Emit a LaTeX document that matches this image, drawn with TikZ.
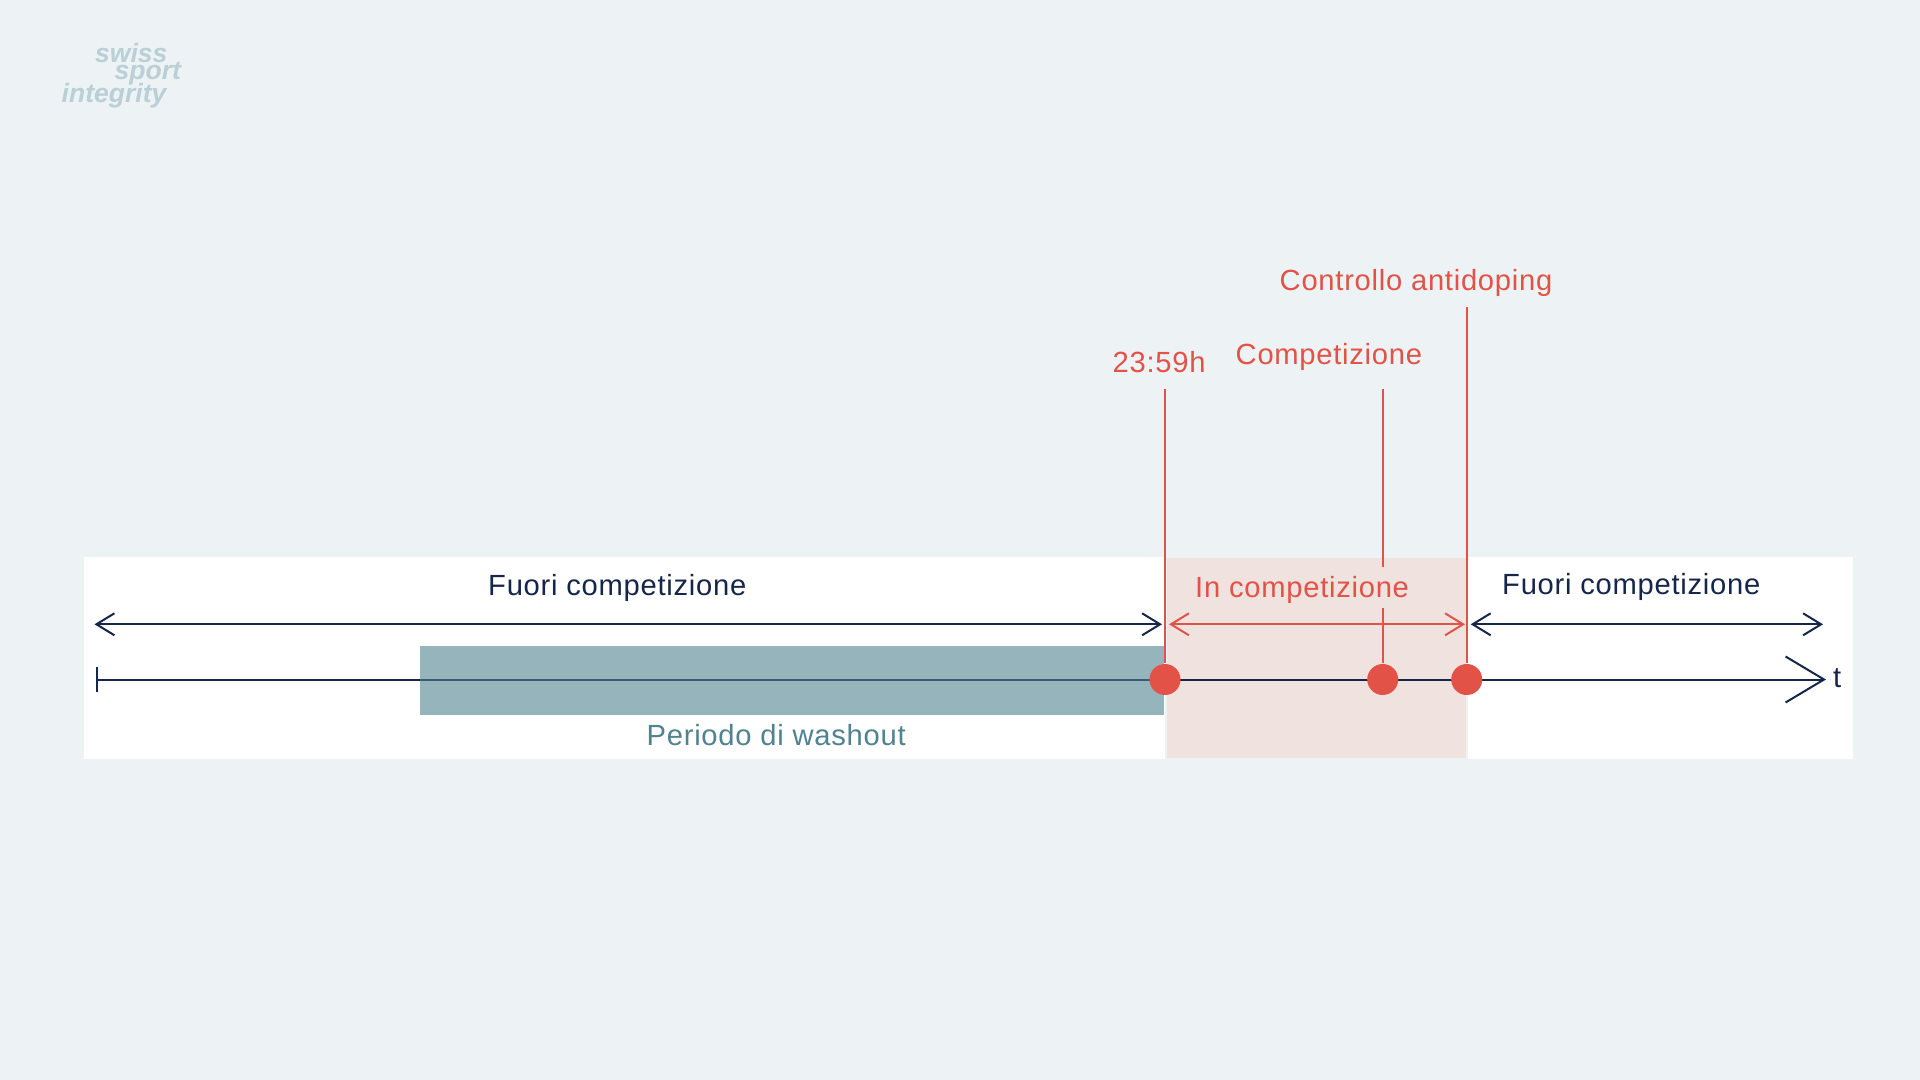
\documentclass[tikz,border=0pt]{standalone}
\usepackage{fontspec}
\setmainfont{Liberation Sans}
\newfontfamily\labelfont[LetterSpace=2.5]{Liberation Sans}
\usetikzlibrary{arrows.meta,positioning}
\definecolor{bgblue}{HTML}{EDF2F4}
\definecolor{navy}{HTML}{16264A}
\definecolor{redmark}{HTML}{E25247}
\definecolor{pinkzone}{HTML}{F0E3DF}
\definecolor{washout}{HTML}{50828F}
\definecolor{logoblue}{HTML}{B9D0D6}
\tikzset{
  lbl/.style={font=\labelfont\fontsize{8.3pt}{10pt}\selectfont, anchor=base west, inner sep=0pt},
  logotxt/.style={font=\fontsize{7.55pt}{8pt}\selectfont\bfseries\itshape, text=logoblue, anchor=base west, inner sep=0pt},
  spanarrow/.style={{Straight Barb[length=1.8mm,width=2.2mm]}-{Straight Barb[length=1.8mm,width=2.2mm]}, line width=0.2mm},
  redline/.style={draw=redmark, line width=0.2mm},
  reddot/.style={circle, fill=redmark, minimum size=3.1mm, inner sep=0pt},
}
\begin{document}
\begin{tikzpicture}[y=-1cm]
\useasboundingbox (0,0) rectangle (19.2,10.8);
% Fondo y banda blanca
\fill[bgblue] (0,0) rectangle (19.2,10.8);
\fill[white] (0.84,5.57) rectangle (18.53,7.59);
% Zona de competicion
\fill[pinkzone, draw=bgblue, line width=0.2mm] (11.66,5.57) rectangle (14.665,7.59);

% Logo
\node[logotxt] (swiss) at (0.945,0.63) {swiss};
\node[logotxt] (sport) at (1.14,0.80) {sport};
\node[logotxt] (integrity) at (0.61,1.03) {integrity};

% Eje de tiempo
\coordinate (axisstart) at (0.96,6.795);
\coordinate (axisend) at (18.26,6.795);
\draw[navy, line width=0.2mm, {Bar[width=2.55mm]}-{Straight Barb[length=3.85mm,width=4.6mm]}] (axisstart) -- (axisend);
\node[lbl, text=navy] (tlabel) at (18.325,6.87) {t};

% Periodo de washout
\fill[washout, opacity=0.6] (4.197,6.46) rectangle (11.643,7.15);
\node[lbl, text=washout] (washlabel) at (6.46,7.45) {Periodo di washout};

% Marcas
\node[reddot] (deadline) at (11.65,6.795) {};
\node[reddot] (competition) at (13.827,6.795) {};
\node[reddot] (control) at (14.667,6.795) {};
\coordinate (deadlinetop) at (11.65,3.89);
\coordinate (competitiontop) at (13.827,3.89);
\coordinate (controltop) at (14.667,3.07);
\draw[redline] (deadlinetop) -- (deadline);
\draw[redline] (competitiontop) -- (competition);
\draw[redline] (controltop) -- (control);

% Etiquetas superiores
\node[lbl, text=redmark] (deadlinelabel) at (11.12,3.727) {23:59h};
\node[lbl, text=redmark] (competitionlabel) at (12.35,3.65) {Competizione};
\node[lbl, text=redmark] (controllabel) at (12.79,2.91) {Controllo antidoping};

% Periodos
\coordinate (outastart) at (0.945,6.243);
\coordinate (outaend) at (11.62,6.243);
\coordinate (instart) at (11.69,6.243);
\coordinate (inend) at (14.65,6.243);
\coordinate (outbstart) at (14.707,6.243);
\coordinate (outbend) at (18.23,6.243);
\draw[spanarrow, navy] (outastart) -- (outaend);
\draw[spanarrow, redmark] (instart) -- (inend);
\draw[spanarrow, navy] (outbstart) -- (outbend);
\node[lbl, text=navy] (outalabel) at (4.875,5.955) {Fuori competizione};
\node[lbl, text=navy] (outblabel) at (15.015,5.94) {Fuori competizione};
\fill[pinkzone] (13.7,5.667) rectangle (13.95,6.08);
\node[lbl, text=redmark] (inlabel) at (11.945,5.97) {In competizione};
\end{tikzpicture}
\end{document}
